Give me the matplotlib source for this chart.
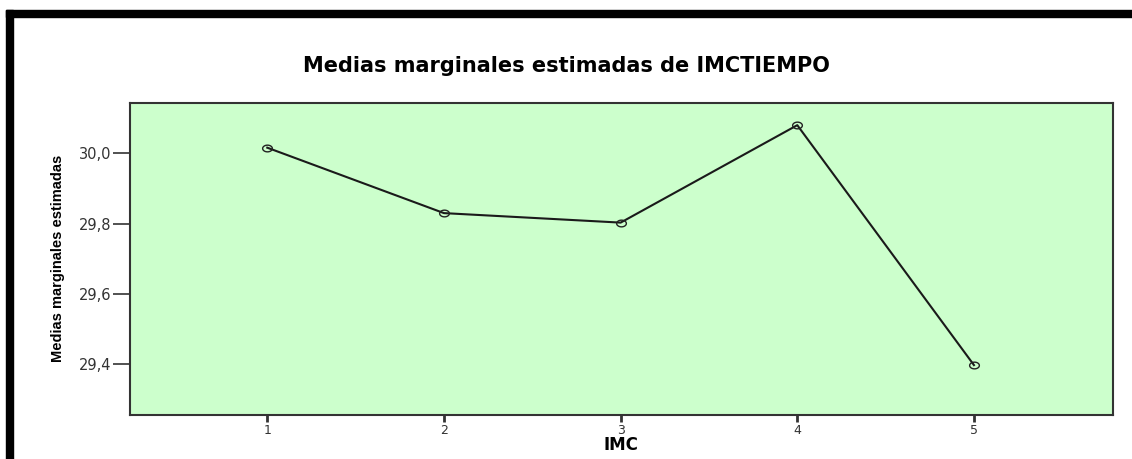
import matplotlib
matplotlib.use("Agg")
import matplotlib.pyplot as plt
from matplotlib.patches import Rectangle
from matplotlib.path import Path
import numpy as np

# Data
imc = [1, 2, 3, 4, 5]
medias = [30.016, 29.830, 29.803, 30.080, 29.398]
yticks = [29.4, 29.6, 29.8, 30.0]
ytick_labels = ["29,4", "29,6", "29,8", "30,0"]
xtick_labels = ["1", "2", "3", "4", "5"]

W, H = 1132, 459
fig = plt.figure(figsize=(W / 100, H / 100), dpi=100)
fig.patch.set_facecolor("white")

ax = fig.add_axes([130 / W, 1 - 414.7 / H, (1113 - 130) / W, (414.7 - 103) / H])
ax.set_facecolor("#CCFFCC")

# elliptical marker (wider than tall)
t = np.linspace(0, 2 * np.pi, 40)
ell = Path(np.column_stack([1.45 * np.cos(t), np.sin(t)]), closed=True)

ax.plot(imc, medias, color="#1a1a1a", linewidth=1.5, marker=ell, markersize=7,
        markerfacecolor="none", markeredgecolor="#222222", markeredgewidth=1.0)

ax.set_xlim(0.223, 5.787)
ax.set_ylim(29.257, 30.143)
ax.set_xticks(imc)
ax.set_xticklabels(xtick_labels)
ax.set_yticks(yticks)
ax.set_yticklabels(ytick_labels)

for s in ax.spines.values():
    s.set_color("#333333")
    s.set_linewidth(1.5)

ax.tick_params(axis="x", direction="out", length=5, width=2, color="#333333",
               labelsize=9, labelcolor="#333333", pad=1.5)
ax.tick_params(axis="y", direction="out", length=12, width=1.2, color="#333333",
               labelsize=10.5, labelcolor="#333333", pad=1.5)
for lab in ax.get_xticklabels() + ax.get_yticklabels():
    lab.set_family(["DejaVu Sans"])

fig.text(0.5, 1 - 66 / H, "Medias marginales estimadas de IMCTIEMPO",
         ha="center", va="center", fontsize=15, fontweight="bold",
         family=["DejaVu Sans"], color="black")

fig.text(621 / W, 1 - 445 / H, "IMC", ha="center", va="center", fontsize=12,
         fontweight="bold", family=["DejaVu Sans"], color="black")

fig.text(58 / W, 1 - 258.5 / H, "Medias marginales estimadas", ha="center",
         va="center", rotation=90, fontsize=10.5, fontweight="bold",
         family=["Liberation Sans"], color="black")

# black frame bars
fig.add_artist(Rectangle((6 / W, 1 - 17 / H), (W - 6) / W, 7 / H,
                         transform=fig.transFigure, color="black", zorder=10))
fig.add_artist(Rectangle((6 / W, 0), 7 / W, 1 - 10 / H,
                         transform=fig.transFigure, color="black", zorder=10))

fig.savefig("out.png", dpi=100)
